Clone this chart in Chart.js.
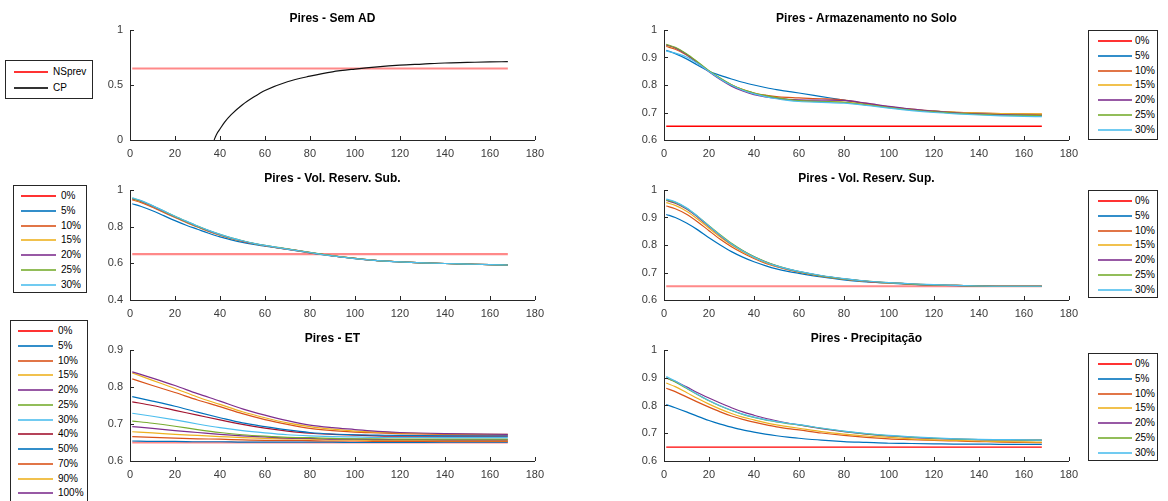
<!DOCTYPE html>
<html><head><meta charset="utf-8">
<script src="https://cdn.jsdelivr.net/npm/chart.js@4/dist/chart.umd.min.js"></script>
<style>
html,body{margin:0;padding:0;background:#fff;}
body{width:1168px;height:501px;position:relative;overflow:hidden;font-family:"Liberation Sans",Arial,sans-serif;}
canvas{position:absolute;display:block;}
.legend{position:absolute;border:1px solid #262626;background:#fff;box-sizing:border-box;}
.entry{position:absolute;left:0;right:0;height:14px;}
.entry .ln{position:absolute;top:6px;height:2px;opacity:0.8;}
.entry .tx{position:absolute;top:0;line-height:14px;font-size:10px;color:#000;white-space:nowrap;}
</style></head><body>
<script>
// ---------------- DATA ----------------
const xConst = [1, 168];
const refLine = [0.65, 0.65];

// Pires - Sem AD
const xCP = [37.4, 38, 39, 40, 42, 45, 50, 55, 60, 70, 80, 90, 100, 110, 120, 130, 140, 150, 160, 168];
const cpValues = [0, 0.03, 0.07, 0.10, 0.16, 0.23, 0.32, 0.39, 0.45, 0.53, 0.58, 0.62, 0.645, 0.665, 0.68, 0.69, 0.70, 0.705, 0.71, 0.712];
const semAdLabels = ['NSprev', 'CP'];

// Shared time axis for the smooth scenarios
const xDays = [1, 5, 10, 15, 20, 25, 30, 35, 40, 45, 50, 55, 60, 70, 80, 90, 100, 110, 120, 130, 140, 150, 160, 168];
const pctLabels = ['0%', '5%', '10%', '15%', '20%', '25%', '30%'];

// Pires - Armazenamento no Solo
const arm5  = [0.926,0.914,0.895,0.872,0.850,0.835,0.822,0.810,0.800,0.791,0.783,0.777,0.771,0.758,0.745,0.731,0.720,0.711,0.705,0.700,0.697,0.695,0.693,0.692];
const arm10 = [0.940,0.930,0.909,0.880,0.850,0.823,0.800,0.783,0.771,0.763,0.758,0.755,0.753,0.750,0.745,0.733,0.721,0.712,0.705,0.701,0.698,0.696,0.695,0.694];
const arm15 = [0.945,0.934,0.912,0.882,0.851,0.824,0.801,0.783,0.770,0.760,0.752,0.746,0.743,0.740,0.738,0.729,0.719,0.711,0.705,0.701,0.698,0.696,0.695,0.695];
const arm20 = [0.946,0.935,0.911,0.880,0.848,0.820,0.796,0.778,0.765,0.757,0.752,0.748,0.746,0.745,0.744,0.734,0.722,0.712,0.705,0.699,0.695,0.692,0.690,0.689];
const arm25 = [0.948,0.937,0.914,0.884,0.852,0.825,0.801,0.783,0.771,0.762,0.754,0.748,0.743,0.740,0.737,0.728,0.718,0.709,0.702,0.697,0.693,0.690,0.689,0.688];
const arm30 = [0.923,0.916,0.902,0.878,0.849,0.822,0.799,0.781,0.768,0.758,0.750,0.744,0.740,0.737,0.734,0.726,0.716,0.707,0.700,0.695,0.691,0.688,0.686,0.685];

// Pires - Vol. Reserv. Sub.
const sub5  = [0.925,0.910,0.887,0.860,0.833,0.808,0.786,0.764,0.744,0.728,0.714,0.703,0.694,0.676,0.657,0.640,0.626,0.615,0.608,0.603,0.599,0.596,0.593,0.591];
const sub10 = [0.946,0.931,0.906,0.878,0.850,0.823,0.798,0.774,0.753,0.735,0.720,0.707,0.696,0.677,0.658,0.641,0.627,0.615,0.608,0.603,0.599,0.596,0.593,0.591];
const sub15 = [0.951,0.936,0.910,0.882,0.853,0.826,0.800,0.776,0.755,0.736,0.721,0.708,0.697,0.678,0.659,0.641,0.627,0.615,0.608,0.603,0.599,0.596,0.593,0.591];
const sub20 = [0.953,0.938,0.912,0.883,0.854,0.827,0.801,0.777,0.756,0.737,0.721,0.708,0.697,0.678,0.659,0.641,0.627,0.615,0.608,0.603,0.599,0.596,0.593,0.591];
const sub25 = [0.955,0.940,0.914,0.885,0.856,0.829,0.803,0.779,0.758,0.739,0.723,0.709,0.698,0.679,0.660,0.642,0.627,0.615,0.608,0.603,0.599,0.596,0.593,0.591];
const sub30 = [0.957,0.942,0.915,0.886,0.857,0.830,0.804,0.780,0.758,0.739,0.723,0.709,0.698,0.678,0.659,0.641,0.626,0.615,0.608,0.603,0.599,0.596,0.593,0.591];

// Pires - Vol. Reserv. Sup.
const sup5  = [0.911,0.900,0.880,0.855,0.826,0.800,0.776,0.756,0.739,0.725,0.713,0.704,0.697,0.684,0.673,0.666,0.661,0.657,0.654,0.652,0.651,0.650,0.650,0.650];
const sup10 = [0.942,0.932,0.912,0.884,0.852,0.821,0.794,0.771,0.751,0.734,0.721,0.710,0.701,0.687,0.676,0.668,0.662,0.658,0.655,0.653,0.651,0.650,0.650,0.650];
const sup15 = [0.954,0.944,0.923,0.894,0.861,0.829,0.800,0.776,0.755,0.737,0.723,0.711,0.702,0.687,0.676,0.668,0.662,0.658,0.655,0.653,0.651,0.650,0.650,0.650];
const sup20 = [0.962,0.952,0.931,0.901,0.867,0.834,0.804,0.779,0.757,0.739,0.724,0.712,0.703,0.688,0.677,0.668,0.663,0.658,0.655,0.653,0.651,0.650,0.650,0.650];
const sup25 = [0.964,0.955,0.934,0.904,0.870,0.837,0.806,0.780,0.758,0.740,0.725,0.713,0.703,0.688,0.677,0.669,0.663,0.658,0.655,0.653,0.651,0.650,0.650,0.650];
const sup30 = [0.967,0.957,0.935,0.904,0.869,0.835,0.804,0.778,0.756,0.738,0.724,0.713,0.704,0.689,0.678,0.669,0.663,0.659,0.656,0.653,0.651,0.650,0.650,0.650];

// Pires - Precipitação
const pre5  = [0.803,0.792,0.777,0.761,0.746,0.733,0.722,0.712,0.704,0.697,0.691,0.686,0.682,0.675,0.670,0.667,0.664,0.663,0.662,0.661,0.661,0.660,0.660,0.660];
const pre10 = [0.862,0.850,0.831,0.812,0.794,0.777,0.762,0.750,0.740,0.731,0.723,0.717,0.712,0.701,0.692,0.685,0.680,0.677,0.674,0.672,0.670,0.668,0.667,0.666];
const pre15 = [0.881,0.868,0.847,0.825,0.805,0.787,0.771,0.758,0.748,0.738,0.730,0.724,0.718,0.706,0.697,0.690,0.685,0.680,0.676,0.674,0.672,0.670,0.669,0.668];
const pre20 = [0.899,0.887,0.867,0.846,0.827,0.809,0.792,0.777,0.765,0.754,0.745,0.737,0.730,0.717,0.706,0.697,0.690,0.685,0.681,0.679,0.677,0.676,0.675,0.675];
const pre25 = [0.900,0.885,0.862,0.839,0.817,0.798,0.782,0.768,0.757,0.748,0.741,0.735,0.730,0.718,0.707,0.698,0.691,0.686,0.682,0.679,0.677,0.676,0.675,0.675];
const pre30 = [0.904,0.888,0.864,0.840,0.818,0.799,0.783,0.769,0.758,0.749,0.742,0.736,0.731,0.719,0.708,0.699,0.692,0.687,0.683,0.680,0.678,0.677,0.676,0.675];

// Pires - ET
const xET = [1, 10, 20, 30, 40, 50, 60, 70, 80, 90, 100, 110, 120, 140, 168];
const etLabels = ['0%', '5%', '10%', '15%', '20%', '25%', '30%', '40%', '50%', '70%', '90%', '100%'];
const et5   = [0.654,0.653,0.653,0.652,0.652,0.651,0.651,0.651,0.651,0.651,0.650,0.650,0.650,0.651,0.651];
const et10  = [0.666,0.664,0.662,0.660,0.659,0.657,0.656,0.656,0.655,0.654,0.654,0.653,0.653,0.653,0.653];
const et15  = [0.679,0.676,0.672,0.669,0.666,0.663,0.661,0.660,0.659,0.657,0.657,0.656,0.656,0.655,0.655];
const et20  = [0.693,0.688,0.682,0.677,0.672,0.668,0.665,0.662,0.661,0.659,0.659,0.658,0.658,0.657,0.657];
const et25  = [0.708,0.702,0.694,0.685,0.677,0.671,0.667,0.664,0.663,0.661,0.660,0.660,0.659,0.659,0.659];
const et30  = [0.729,0.721,0.711,0.700,0.690,0.682,0.676,0.671,0.668,0.666,0.665,0.664,0.664,0.663,0.663];
const et40  = [0.760,0.750,0.737,0.724,0.711,0.699,0.689,0.681,0.675,0.672,0.670,0.668,0.667,0.667,0.667];
const et50  = [0.774,0.762,0.748,0.732,0.717,0.703,0.693,0.684,0.677,0.673,0.671,0.670,0.669,0.668,0.668];
const et70  = [0.822,0.804,0.785,0.765,0.747,0.728,0.712,0.699,0.688,0.682,0.678,0.676,0.674,0.672,0.671];
const et90  = [0.838,0.818,0.796,0.773,0.753,0.733,0.717,0.703,0.693,0.686,0.681,0.678,0.676,0.673,0.672];
const et100 = [0.841,0.824,0.804,0.782,0.762,0.741,0.724,0.709,0.697,0.690,0.685,0.680,0.677,0.674,0.672];

// ---------------- STYLE ----------------
const RED = '#FF0000', PALE_RED = 'rgba(255,40,40,0.55)';
const palette = ['#0072BD', '#D95319', '#EDB120', '#7E2F8E', '#77AC30', '#4DBEEE', '#A2142F'];
const FONT = '"Liberation Sans", Arial, sans-serif';
Chart.defaults.font.family = FONT;

const YW = 45, PT = 28, PR = 16, XH = 24;

const pts = (xs, ys) => xs.map((x, i) => ({x: x, y: ys[i]}));
function series(labels, xs, arrays, redColor, redWidth) {
  return arrays.map((ys, i) => {
    const isRef = i === 0;
    return {
      label: labels[i],
      data: isRef ? pts(xConst, refLine) : pts(xs, ys),
      borderColor: isRef ? redColor : palette[(i - 1) % palette.length],
      legendColor: isRef ? RED : palette[(i - 1) % palette.length],
      borderWidth: isRef ? redWidth : 1.2,
      order: arrays.length - i
    };
  });
}

const inwardTicks = {
  id: 'inwardTicks',
  afterDraw(c) {
    const {ctx, chartArea: a, scales: {x, y}} = c;
    ctx.save();
    ctx.strokeStyle = '#262626';
    ctx.lineWidth = 1;
    ctx.beginPath();
    x.ticks.forEach(t => {
      const p = Math.round(x.getPixelForValue(t.value)) + 0.5;
      ctx.moveTo(p, a.bottom); ctx.lineTo(p, a.bottom - 4);
    });
    y.ticks.forEach(t => {
      const p = Math.round(y.getPixelForValue(t.value)) + 0.5;
      ctx.moveTo(a.left, p); ctx.lineTo(a.left + 4, p);
    });
    ctx.stroke();
    ctx.restore();
  }
};
const titlePlugin = {
  id: 'axTitle',
  afterDraw(c, args, opts) {
    const {ctx, chartArea: a} = c;
    ctx.save();
    ctx.font = 'bold 12px ' + FONT;
    ctx.fillStyle = '#000';
    ctx.textAlign = 'center';
    ctx.textBaseline = 'middle';
    ctx.fillText(opts.text, (a.left + a.right) / 2, a.top - 11.5);
    ctx.restore();
  }
};

function makePlot(p) {
  const cv = document.createElement('canvas');
  const W = YW + p.w + PR, H = PT + p.h + XH;
  cv.width = W; cv.height = H;
  cv.style.width = W + 'px'; cv.style.height = H + 'px';
  cv.style.left = (p.x0 - YW) + 'px'; cv.style.top = (p.top - PT) + 'px';
  document.body.appendChild(cv);
  new Chart(cv, {
    type: 'line',
    data: {datasets: p.datasets},
    options: {
      responsive: false, animation: false, devicePixelRatio: 1,
      layout: {autoPadding: false, padding: {left: 0, top: PT, right: PR, bottom: 0}},
      elements: {point: {radius: 0}, line: {cubicInterpolationMode: 'monotone', fill: false}},
      plugins: {legend: {display: false}, tooltip: {enabled: false}, axTitle: {text: p.title}},
      scales: {
        x: {
          type: 'linear', min: 0, max: 180,
          afterFit: s => { s.height = XH; },
          grid: {display: false, drawTicks: false},
          border: {display: true, color: '#262626', width: 1},
          ticks: {stepSize: 20, padding: 7, color: '#3a3a3a', font: {size: 11}, maxRotation: 0, autoSkip: false}
        },
        y: {
          type: 'linear', min: p.ymin, max: p.ymax,
          afterFit: s => { s.width = YW; },
          grid: {display: false, drawTicks: false},
          border: {display: true, color: '#262626', width: 1},
          ticks: {stepSize: p.ystep, padding: 7, color: '#3a3a3a', font: {size: 11},
                  callback: v => String(+(+v).toFixed(2))}
        }
      }
    },
    plugins: [inwardTicks, titlePlugin]
  });
}

function makeLegend(L, datasets) {
  const box = document.createElement('div');
  box.className = 'legend';
  Object.assign(box.style, {left: L.left + 'px', top: L.top + 'px', width: L.w + 'px', height: L.h + 'px'});
  datasets.forEach((d, i) => {
    const e = document.createElement('div');
    e.className = 'entry';
    e.style.top = Math.round(L.first + i * L.step - 8) + 'px';
    const ln = document.createElement('div');
    ln.className = 'ln';
    ln.style.left = L.lx + 'px'; ln.style.width = L.lw + 'px';
    ln.style.background = d.legendColor || d.borderColor;
    const tx = document.createElement('span');
    tx.className = 'tx';
    tx.style.left = L.tx + 'px';
    tx.textContent = d.label;
    e.appendChild(ln); e.appendChild(tx);
    box.appendChild(e);
  });
  document.body.appendChild(box);
}

// ---------------- BUILD ----------------
const semAdSets = [
  {label: semAdLabels[0], data: pts(xConst, refLine), borderColor: PALE_RED, legendColor: RED, borderWidth: 2.2, order: 2},
  {label: semAdLabels[1], data: pts(xCP, cpValues), borderColor: '#111', legendColor: '#000', borderWidth: 1.2, order: 1}
];
const armSets = series(pctLabels, xDays, [refLine, arm5, arm10, arm15, arm20, arm25, arm30], RED, 1.3);
const subSets = series(pctLabels, xDays, [refLine, sub5, sub10, sub15, sub20, sub25, sub30], PALE_RED, 2.2);
const supSets = series(pctLabels, xDays, [refLine, sup5, sup10, sup15, sup20, sup25, sup30], PALE_RED, 2.2);
const etSets  = series(etLabels, xET, [refLine, et5, et10, et15, et20, et25, et30, et40, et50, et70, et90, et100], PALE_RED, 2.2);
const preSets = series(pctLabels, xDays, [refLine, pre5, pre10, pre15, pre20, pre25, pre30], RED, 1.3);

makePlot({x0: 130, top: 30,  w: 405, h: 110, ymin: 0,   ymax: 1,   ystep: 0.5, title: 'Pires - Sem AD', datasets: semAdSets});
makePlot({x0: 664, top: 30,  w: 405, h: 110, ymin: 0.6, ymax: 1,   ystep: 0.1, title: 'Pires - Armazenamento no Solo', datasets: armSets});
makePlot({x0: 130, top: 190, w: 405, h: 110, ymin: 0.4, ymax: 1,   ystep: 0.2, title: 'Pires - Vol. Reserv. Sub.', datasets: subSets});
makePlot({x0: 664, top: 190, w: 405, h: 110, ymin: 0.6, ymax: 1,   ystep: 0.1, title: 'Pires - Vol. Reserv. Sup.', datasets: supSets});
makePlot({x0: 130, top: 350, w: 405, h: 111, ymin: 0.6, ymax: 0.9, ystep: 0.1, title: 'Pires - ET', datasets: etSets});
makePlot({x0: 664, top: 350, w: 405, h: 111, ymin: 0.6, ymax: 1,   ystep: 0.1, title: 'Pires - Precipitação', datasets: preSets});

makeLegend({left: 5,    top: 60,  w: 88, h: 39,  first: 12,  step: 16,   lx: 8, lw: 34, tx: 47}, semAdSets);
makeLegend({left: 1088, top: 30,  w: 70, h: 110, first: 11,  step: 14.8, lx: 9, lw: 34, tx: 46}, armSets);
makeLegend({left: 13,   top: 185, w: 74, h: 108, first: 11,  step: 14.8, lx: 7, lw: 35, tx: 47}, subSets);
makeLegend({left: 1088, top: 190, w: 70, h: 108, first: 11,  step: 14.8, lx: 9, lw: 34, tx: 46}, supSets);
makeLegend({left: 10,   top: 320, w: 78, h: 190, first: 11,  step: 14.75, lx: 7, lw: 35, tx: 47}, etSets);
makeLegend({left: 1088, top: 353, w: 70, h: 108, first: 11,  step: 14.8, lx: 9, lw: 34, tx: 46}, preSets);
</script>
</body></html>
